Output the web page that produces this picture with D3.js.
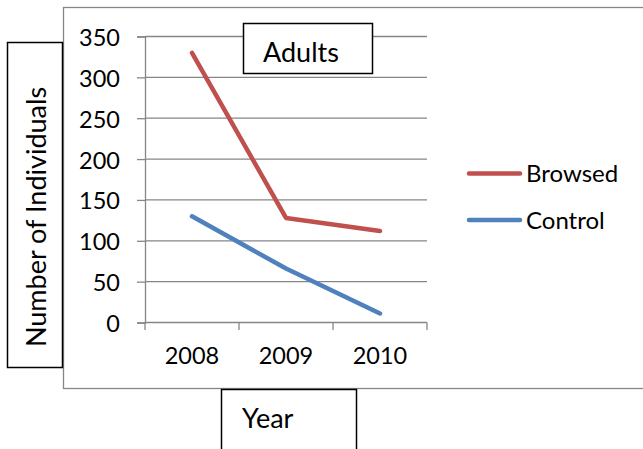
<!DOCTYPE html>
<html><head><meta charset="utf-8">
<script src="https://cdn.jsdelivr.net/npm/d3@7"></script>
<style>body{margin:0;background:#fff;} svg{display:block;} text{font-family:Lato,"Open Sans",sans-serif;fill:#000;}</style>
</head><body>
<svg id="c" width="643" height="449"></svg>
<script>
const categories = ["2008","2009","2010"];
const browsed = [330, 128, 112];
const control = [130, 66, 11];
const yTicks = [0,50,100,150,200,250,300,350];
const seriesNames = ["Browsed","Control"];
const colors = ["#C0504D","#4F81BD"];

const svg = d3.select("#c");
// outer chart area
svg.append("rect").attr("x",63.5).attr("y",7.5).attr("width",600).attr("height",381)
  .attr("fill","#fff").attr("stroke","#868686").attr("stroke-width",1.3);

const x = d3.scaleBand().domain(categories).range([145,427]);
const y = d3.scaleLinear().domain([0,350]).range([322.5,36.5]);

// gridlines
svg.append("g").selectAll("line").data(yTicks.filter(d=>d>0)).join("line")
  .attr("x1",145).attr("x2",427).attr("y1",d=>y(d)).attr("y2",d=>y(d))
  .attr("stroke","#868686").attr("stroke-width",1.3);

// y axis
const ya = svg.append("g").attr("transform","translate(145,0)")
  .call(d3.axisLeft(y).tickValues(yTicks).tickSize(8).tickPadding(17));
ya.select(".domain").attr("stroke","#868686").attr("stroke-width",1.3);
ya.selectAll(".tick line").attr("stroke","#868686").attr("stroke-width",1.3);
ya.selectAll("text").attr("font-size",23.5).attr("dy","0.38em").style("font-family","Lato");

// x axis
const xa = svg.append("g").attr("transform","translate(0,322.5)")
  .call(d3.axisBottom(x).tickSize(0).tickPadding(25));
xa.select(".domain").attr("stroke","#868686").attr("stroke-width",1.3).attr("d","M145,0H427");
xa.selectAll("text").attr("font-size",23.5).style("font-family","Lato");
const bounds = [145].concat(categories.map(c=>x(c)+x.bandwidth()));
svg.append("g").selectAll("line").data(bounds).join("line")
  .attr("x1",d=>d).attr("x2",d=>d).attr("y1",322.5).attr("y2",330)
  .attr("stroke","#868686").attr("stroke-width",1.3);

// lines
const line = d3.line().x((d,i)=>x(categories[i])+x.bandwidth()/2).y(d=>y(d));
[browsed, control].forEach((s,i)=>{
  svg.append("path").datum(s).attr("d",line).attr("fill","none")
    .attr("stroke",colors[i]).attr("stroke-width",4.5).attr("stroke-linecap","round").attr("stroke-linejoin","round");
});

// title box
svg.append("rect").attr("x",243.5).attr("y",23.5).attr("width",129).attr("height",50)
  .attr("fill","#fff").attr("stroke","#000").attr("stroke-width",1.5);
svg.append("text").attr("x",263).attr("y",62).attr("font-size",27).text("Adults");

// legend
seriesNames.forEach((n,i)=>{
  const ly = 173.5 + i*46.5;
  svg.append("line").attr("x1",469).attr("x2",520).attr("y1",ly).attr("y2",ly)
    .attr("stroke",colors[i]).attr("stroke-width",4.5).attr("stroke-linecap","round");
  svg.append("text").attr("x",526).attr("y",ly).attr("dy","0.36em").attr("font-size",24).text(n);
});

// y axis title box
svg.append("rect").attr("x",7.5).attr("y",42.5).attr("width",55).attr("height",325)
  .attr("fill","#fff").attr("stroke","#000").attr("stroke-width",1.5);
svg.append("text").attr("transform","translate(46,217) rotate(-90)").attr("text-anchor","middle")
  .attr("font-size",27).text("Number of Individuals");

// x axis title box
svg.append("rect").attr("x",221.5).attr("y",389.5).attr("width",135).attr("height",70)
  .attr("fill","#fff").attr("stroke","#000").attr("stroke-width",1.5);
svg.append("text").attr("x",242).attr("y",428).attr("font-size",27).text("Year");
</script>
</body></html>
